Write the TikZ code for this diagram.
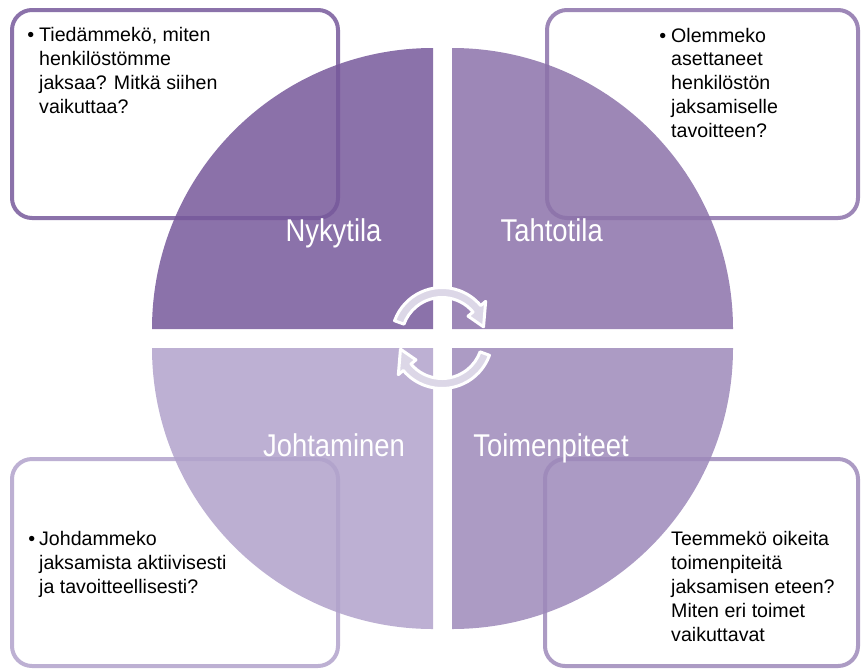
\documentclass[tikz,border=0pt]{standalone}
\usepackage{fontspec}
\setmainfont{Liberation Sans}
\newfontfamily\labelfont[FakeStretch=0.87]{Liberation Sans}
\usetikzlibrary{calc}
\definecolor{qa}{RGB}{119,89,155}
\definecolor{qb}{RGB}{140,114,170}
\definecolor{qc}{RGB}{157,137,186}
\definecolor{qd}{RGB}{177,162,203}
\definecolor{ba}{RGB}{139,114,170}
\definecolor{bb}{RGB}{157,135,183}
\definecolor{bc}{RGB}{172,155,196}
\definecolor{bd}{RGB}{189,176,211}
\definecolor{arrowfill}{RGB}{220,215,231}
\begin{document}
\begin{tikzpicture}[x=1pt,y=-1pt,
  infobox/.style={line width=4pt, rounded corners=20pt, fill=white},
  quad/.style={fill opacity=0.85},
  qlabel/.style={font=\labelfont\fontsize{31.5}{36}\selectfont, text=white, anchor=base, inner sep=0pt},
  btext/.style={font=\fontsize{19.6}{23.9}\selectfont, anchor=base west, inner sep=0pt},
  cyc/.style={fill=arrowfill, draw=white, line width=3pt, line join=round}]
\useasboundingbox (0,0) rectangle (861,670);

% boxes behind
\draw[infobox, draw=ba] (12,10) rectangle (338,218);
\draw[infobox, draw=bb] (547,10) rectangle (858,218);
\draw[infobox, draw=bd] (12,459) rectangle (338,666);
\draw[infobox, draw=bc] (545,459) rectangle (858,666);

% quadrants
\fill[quad, qa] (433,329) -- (152,329) arc[start angle=180, end angle=270, radius=281] -- cycle;
\fill[quad, qb] (452,329) -- (452,48) arc[start angle=270, end angle=360, radius=281] -- cycle;
\fill[quad, qc] (452,348) -- (733,348) arc[start angle=0, end angle=90, radius=281] -- cycle;
\fill[quad, qd] (433,348) -- (433,629) arc[start angle=90, end angle=180, radius=281] -- cycle;

% labels
\node[qlabel] (nyky) at (333.5,241) {Nykytila};
\node[qlabel] (tahto) at (551.7,241) {Tahtotila};
\node[qlabel] (johto) at (334,456) {Johtaminen};
\node[qlabel] (toimen) at (551,456) {Toimenpiteet};

% cycle arrows
\coordinate (c) at (442,338);
\path[cyc] ($(c)+(200:50.5)$) arc[start angle=200, end angle=320, radius=50.5]
  -- ($(c)+(320:57)$) -- ($(c)+(345:43)$) -- ($(c)+(320:34)$) -- ($(c)+(320:40.5)$)
  arc[start angle=320, end angle=200, radius=40.5] -- cycle;
\path[cyc] ($(c)+(20:50.5)$) arc[start angle=20, end angle=140, radius=50.5]
  -- ($(c)+(140:57)$) -- ($(c)+(165:43)$) -- ($(c)+(140:34)$) -- ($(c)+(140:40.5)$)
  arc[start angle=140, end angle=20, radius=40.5] -- cycle;

% texts
\node[btext] (t1) at (39,41.7) {\vtop{\hbox{\llap{•\hspace{5pt}}Tiedämmekö, miten}\hbox{henkilöstömme}\hbox{jaksaa? Mitkä siihen}\hbox{vaikuttaa?}}};
\node[btext] (t2) at (671,42) {\vtop{\hbox{\llap{•\hspace{5pt}}Olemmeko}\hbox{asettaneet}\hbox{henkilöstön}\hbox{jaksamiselle}\hbox{tavoitteen?}}};
\node[btext] (t3) at (39,545.5) {\vtop{\hbox{\llap{•\hspace{4pt}}Johdammeko}\hbox{jaksamista aktiivisesti}\hbox{ja tavoitteellisesti?}}};
\node[btext] (t4) at (671,545.5) {\vtop{\hbox{Teemmekö oikeita}\hbox{toimenpiteitä}\hbox{jaksamisen eteen?}\hbox{Miten eri toimet}\hbox{vaikuttavat}}};
\end{tikzpicture}
\end{document}
